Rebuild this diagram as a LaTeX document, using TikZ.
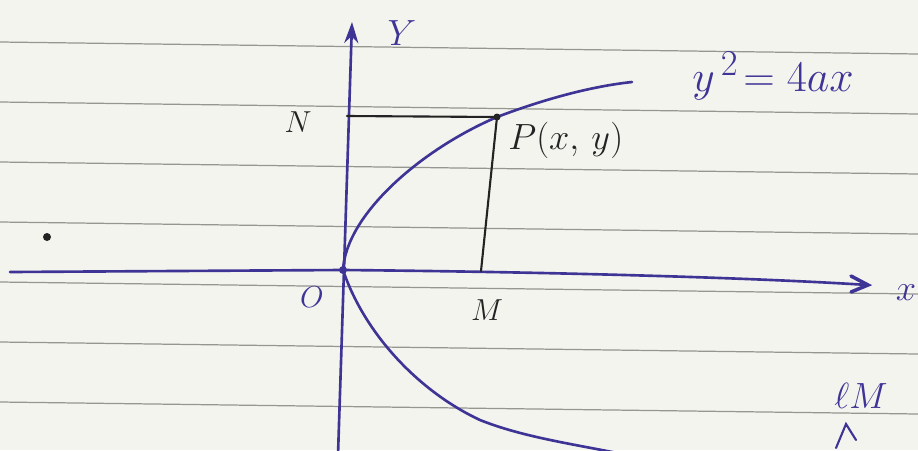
\documentclass[tikz,border=0pt]{standalone}
\usepackage{amsmath,amssymb}
\usepackage{tikz}
\usetikzlibrary{arrows.meta, positioning}
\definecolor{inkblue}{RGB}{62, 52, 150}
\definecolor{paper}{RGB}{244, 244, 238}
\definecolor{ruling}{RGB}{150, 150, 144}
\definecolor{pencil}{RGB}{35, 35, 35}

\tikzset{
  ink/.style={inkblue, line width=1.5pt, line cap=round},
  pen/.style={pencil, line width=1.2pt, line cap=round},
  blab/.style={inkblue, inner sep=0pt},
  klab/.style={pencil, inner sep=0pt},
}

\begin{document}
\begin{tikzpicture}[x=0.02cm, y=-0.02cm]
                % Paper and ruled lines
                \clip (0,0) rectangle (918,450);
                \fill[paper] (0,0) rectangle (918,450);
                \foreach \r in {0,...,6}
                  \draw[ruling, line width=0.7pt] (0,{42+60*\r}) -- (918,{54+60*\r});
                
                % Points
                \coordinate (O) at (343,270);
                \coordinate (P) at (497,117);
                \coordinate (N) at (347,116);
                \coordinate (M) at (481,271);
                \coordinate (xl) at (10,272);
                \coordinate (xr) at (868,285);
                \coordinate (yb) at (338,455);
                \coordinate (yt) at (352,22);
                
                % Axes
                \draw[ink] (xl) -- (O) .. controls (560,272) and (760,278) .. (xr);
                \draw[ink, line width=2pt] (xr) ++(-17,-9) -- (xr) -- ++(-17,7);
                \draw[ink, -{Stealth[length=12pt, width=8pt]}] (yb) -- (yt);
                
                % Parabola
                \draw[ink] (O) .. controls (346,215) and (420,150) .. (P)
                  .. controls (550,97) and (595,86) .. (632,82);
                \draw[ink] (O) .. controls (365,335) and (420,392) .. (480,420)
                  .. controls (530,440) and (590,446) .. (650,460);
                
                % Ordinate and abscissa of P
                \draw[pen] (N) -- (P) -- (M);
                \fill[pencil] (P) circle (3.5);
                \fill[inkblue] (O) circle (4);
                \fill[pencil] (47,237) circle (4);
                
                % Labels
                \node[blab] (ylab) at (402,33) {\fontsize{20}{24}\selectfont $Y$};
                \node[blab] (xlab) at (906,293) {\fontsize{22}{26}\selectfont $x$};
                \node[blab] (olab) at (312,297) {\fontsize{16}{20}\selectfont $O$};
                \node[klab] (nlab) at (298,122) {\fontsize{17}{20}\selectfont $N$};
                \node[klab] (mlab) at (487,310) {\fontsize{17}{20}\selectfont $M$};
                \node[klab, anchor=west] (plab) at (508,140) {\fontsize{22}{26}\selectfont $P(x,\,y)$};
                \node[blab, anchor=west] (eqn) at (692,76) {\fontsize{30}{34}\selectfont $y^{\,2}\!=4ax$};
                \node[blab, anchor=west] (pm) at (834,396) {\fontsize{22}{26}\selectfont $\ell M$};
                \draw[ink, line width=1.2pt] (836,448) -- (846,424) -- (856,440);
            \end{tikzpicture}
\end{document}
